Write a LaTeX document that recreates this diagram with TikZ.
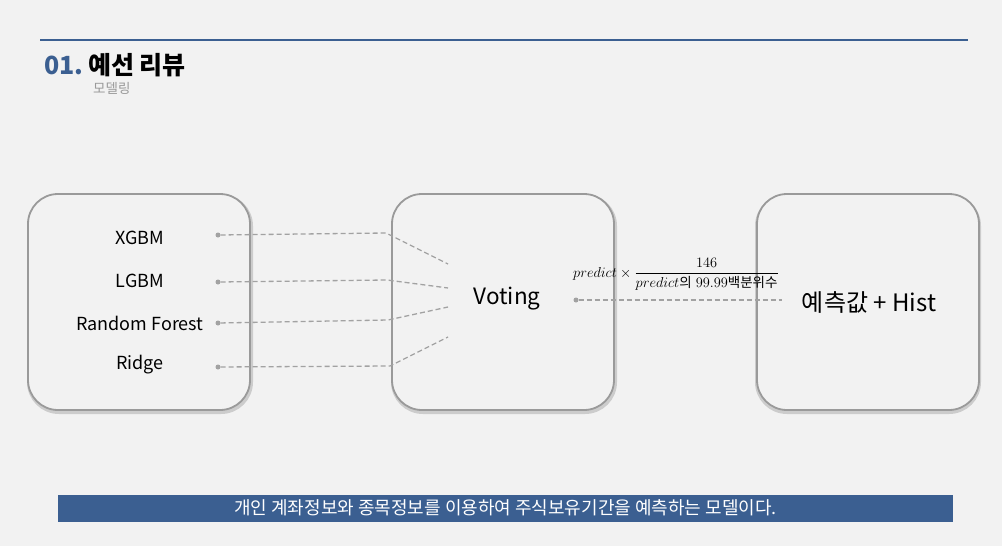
\documentclass[tikz,border=0pt]{standalone}
\usepackage{fontspec}
\usepackage{amsmath}
\newfontfamily\kr{Noto Sans CJK KR}
\definecolor{bg}{HTML}{F2F2F2}
\definecolor{navy}{HTML}{3B5F91}
\definecolor{dashgray}{HTML}{A2A2A2}
\definecolor{boxedge}{HTML}{9A9A9A}
\begin{document}
\begin{tikzpicture}[x=1pt,y=-1pt,
  panel/.style={draw=boxedge, line width=1.8pt, fill=bg, rounded corners=30pt,
    minimum width=222pt, minimum height=216pt, inner sep=0pt},
  shadowpanel/.style={draw=black!20, line width=4pt, rounded corners=30pt,
    minimum width=222pt, minimum height=216pt, inner sep=0pt},
  item/.style={font=\kr\fontsize{18}{21}\selectfont, text=black, inner sep=0pt},
  big/.style={font=\kr\fontsize{24}{29}\selectfont, text=black, inner sep=0pt},
  dot/.style={circle, fill=dashgray, inner sep=0pt, minimum size=5pt},
  link/.style={draw=dashgray, line width=1.3pt, dash pattern=on 5pt off 3pt}]
\useasboundingbox (0,0) rectangle (1002,546);
\fill[bg] (0,0) rectangle (1002,546);
% header
\draw[navy, line width=2pt] (40,40) -- (968,40);
\node[anchor=base west, inner sep=0pt, text=navy, font=\kr\bfseries\fontsize{25}{30}\selectfont] (num) at (44,74) {01.};
\node[anchor=base west, inner sep=0pt, text=black, font=\kr\bfseries\fontsize{25}{30}\selectfont] (title) at (88,74) {예선 리뷰};
\node[anchor=base west, inner sep=0pt, text=black!40, font=\kr\fontsize{13.5}{16}\selectfont] (sub) at (93,93) {모델링};
% panels
\node[shadowpanel] at (140,304) {};
\node[shadowpanel] at (504,304) {};
\node[shadowpanel] at (868,304) {};
\node[panel] (lbox) at (139,302) {};
\node[panel] (mbox) at (503,302) {};
\node[panel] (rbox) at (868,302) {};
% items
\node[item] (x1) at (140,238) {XGBM};
\node[item] (x2) at (140,281) {LGBM};
\node[item] (x3) at (140,323) {Random Forest};
\node[item] (x4) at (140,365) {Ridge};
\node[font=\kr\fontsize{22.5}{27}\selectfont, inner sep=0pt] (vote) at (507,299) {Voting};
\node[big] (out) at (869,302) {예측값 + Hist};
% dots and links
\node[dot] (d1) at (218,235) {};
\node[dot] (d2) at (218,282) {};
\node[dot] (d3) at (218,323) {};
\node[dot] (d4) at (218,367) {};
\coordinate (b1) at (386,233);
\coordinate (b2) at (387,280);
\coordinate (b3) at (388,320);
\coordinate (b4) at (390,366);
\coordinate (e1) at (448,264);
\coordinate (e2) at (448,288);
\coordinate (e3) at (448,307);
\coordinate (e4) at (448,337);
\draw[link] (d1) -- (b1) -- (e1);
\draw[link] (d2) -- (b2) -- (e2);
\draw[link] (d3) -- (b3) -- (e3);
\draw[link] (d4) -- (b4) -- (e4);
\node[dot] (d5) at (576,300) {};
\coordinate (e5) at (782,300);
\draw[link] (d5) -- (e5);
\node[inner sep=0pt, font=\fontsize{13.5}{16}\selectfont] (formula) at (676,274)
  {$\displaystyle predict\times\frac{146}{predict\mbox{\kr 의}\;99.99\mbox{\kr 백분위수}}$};
% footer
\node[fill=navy, minimum width=895pt, minimum height=27pt, inner sep=0pt,
  text=white, font=\kr\fontsize{18}{20}\selectfont] (foot) at (505.5,508)
  {개인 계좌정보와 종목정보를 이용하여 주식보유기간을 예측하는 모델이다.};
\end{tikzpicture}
\end{document}
